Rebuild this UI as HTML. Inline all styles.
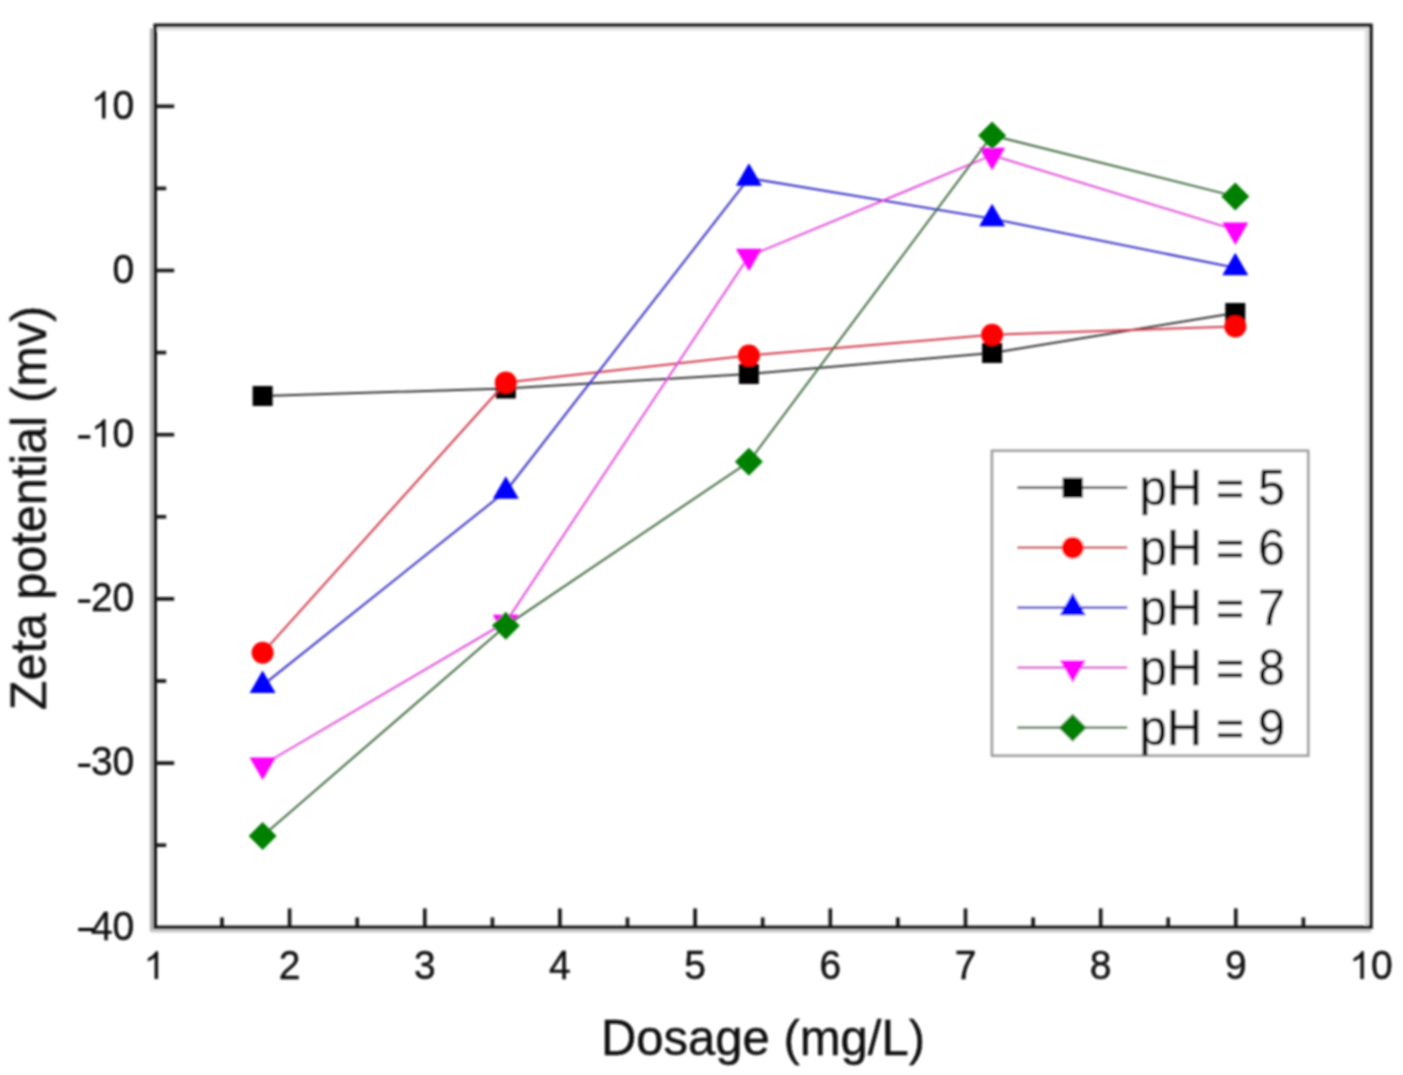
<!DOCTYPE html>
<html><head><meta charset="utf-8"><style>
html,body{margin:0;padding:0;background:#fff;}
svg{display:block;}
text{font-family:"Liberation Sans",sans-serif;}
svg text, svg path{fill:#0a0a0a;stroke:#0a0a0a;stroke-width:0.35px;}
</style></head><body>
<svg width="1403" height="1075" viewBox="0 0 1403 1075">
<defs><filter id="soft" x="0" y="0" width="1403" height="1075" filterUnits="userSpaceOnUse"><feGaussianBlur stdDeviation="1.0"/></filter></defs>
<rect width="1403" height="1075" fill="#fff"/>
<g filter="url(#soft)">
<line x1="151.6" y1="28.3" x2="151.6" y2="931.4" stroke="#b4b4b4" stroke-width="3.6"/>
<line x1="1366.7" y1="25.3" x2="1366.7" y2="927.4" stroke="#dcdcdc" stroke-width="3.4"/>
<line x1="155.2" y1="28.9" x2="1370.9" y2="28.9" stroke="#e2e2e2" stroke-width="3.4"/>
<line x1="151.6" y1="931.0" x2="1370.9" y2="931.0" stroke="#d0d0d0" stroke-width="3.4"/>
<rect x="155.2" y="25.3" width="1215.7" height="902.1" fill="none" stroke="#141414" stroke-width="3.6"/>
<line x1="222.0" y1="927.4" x2="222.0" y2="917.4" stroke="#141414" stroke-width="3.6"/>
<line x1="289.6" y1="927.4" x2="289.6" y2="908.4" stroke="#141414" stroke-width="3.6"/>
<line x1="357.2" y1="927.4" x2="357.2" y2="917.4" stroke="#141414" stroke-width="3.6"/>
<line x1="424.8" y1="927.4" x2="424.8" y2="908.4" stroke="#141414" stroke-width="3.6"/>
<line x1="492.4" y1="927.4" x2="492.4" y2="917.4" stroke="#141414" stroke-width="3.6"/>
<line x1="559.9" y1="927.4" x2="559.9" y2="908.4" stroke="#141414" stroke-width="3.6"/>
<line x1="627.5" y1="927.4" x2="627.5" y2="917.4" stroke="#141414" stroke-width="3.6"/>
<line x1="695.1" y1="927.4" x2="695.1" y2="908.4" stroke="#141414" stroke-width="3.6"/>
<line x1="762.7" y1="927.4" x2="762.7" y2="917.4" stroke="#141414" stroke-width="3.6"/>
<line x1="830.3" y1="927.4" x2="830.3" y2="908.4" stroke="#141414" stroke-width="3.6"/>
<line x1="897.9" y1="927.4" x2="897.9" y2="917.4" stroke="#141414" stroke-width="3.6"/>
<line x1="965.5" y1="927.4" x2="965.5" y2="908.4" stroke="#141414" stroke-width="3.6"/>
<line x1="1033.1" y1="927.4" x2="1033.1" y2="917.4" stroke="#141414" stroke-width="3.6"/>
<line x1="1100.7" y1="927.4" x2="1100.7" y2="908.4" stroke="#141414" stroke-width="3.6"/>
<line x1="1168.2" y1="927.4" x2="1168.2" y2="917.4" stroke="#141414" stroke-width="3.6"/>
<line x1="1235.8" y1="927.4" x2="1235.8" y2="908.4" stroke="#141414" stroke-width="3.6"/>
<line x1="1303.4" y1="927.4" x2="1303.4" y2="917.4" stroke="#141414" stroke-width="3.6"/>
<line x1="155.2" y1="845.2" x2="166.2" y2="845.2" stroke="#141414" stroke-width="3.6"/>
<line x1="155.2" y1="763.1" x2="174.2" y2="763.1" stroke="#141414" stroke-width="3.6"/>
<line x1="155.2" y1="681.0" x2="166.2" y2="681.0" stroke="#141414" stroke-width="3.6"/>
<line x1="155.2" y1="598.9" x2="174.2" y2="598.9" stroke="#141414" stroke-width="3.6"/>
<line x1="155.2" y1="516.8" x2="166.2" y2="516.8" stroke="#141414" stroke-width="3.6"/>
<line x1="155.2" y1="434.7" x2="174.2" y2="434.7" stroke="#141414" stroke-width="3.6"/>
<line x1="155.2" y1="352.6" x2="166.2" y2="352.6" stroke="#141414" stroke-width="3.6"/>
<line x1="155.2" y1="270.5" x2="174.2" y2="270.5" stroke="#141414" stroke-width="3.6"/>
<line x1="155.2" y1="188.4" x2="166.2" y2="188.4" stroke="#141414" stroke-width="3.6"/>
<line x1="155.2" y1="106.3" x2="174.2" y2="106.3" stroke="#141414" stroke-width="3.6"/>
<path d="M763,0L583,0L583,1147Q518,1085 415,1023Q307,961 223,930L223,1104Q374,1175 487,1276Q600,1377 647,1472L763,1472Z" transform="translate(143.56,979.00) scale(0.01904,-0.01877)"/>
<text transform="translate(278.74,979.00) scale(1,1.03)" font-size="39">2</text>
<text transform="translate(413.92,979.00) scale(1,1.03)" font-size="39">3</text>
<text transform="translate(549.10,979.00) scale(1,1.03)" font-size="39">4</text>
<text transform="translate(684.28,979.00) scale(1,1.03)" font-size="39">5</text>
<text transform="translate(819.46,979.00) scale(1,1.03)" font-size="39">6</text>
<text transform="translate(954.64,979.00) scale(1,1.03)" font-size="39">7</text>
<text transform="translate(1089.82,979.00) scale(1,1.03)" font-size="39">8</text>
<text transform="translate(1225.00,979.00) scale(1,1.03)" font-size="39">9</text>
<path d="M763,0L583,0L583,1147Q518,1085 415,1023Q307,961 223,930L223,1104Q374,1175 487,1276Q600,1377 647,1472L763,1472Z" transform="translate(1349.33,979.00) scale(0.01904,-0.01877)"/>
<text transform="translate(1371.02,979.00) scale(1,1.03)" font-size="39">0</text>
<text transform="translate(90.92,939.60) scale(1,1.03)" font-size="39">4</text>
<text transform="translate(112.61,939.60) scale(1,1.03)" font-size="39">0</text>
<rect x="78.2" y="927.9" width="14.8" height="3.2"/>
<text transform="translate(90.92,775.40) scale(1,1.03)" font-size="39">3</text>
<text transform="translate(112.61,775.40) scale(1,1.03)" font-size="39">0</text>
<rect x="78.2" y="763.7" width="12.1" height="3.2"/>
<text transform="translate(90.92,611.20) scale(1,1.03)" font-size="39">2</text>
<text transform="translate(112.61,611.20) scale(1,1.03)" font-size="39">0</text>
<rect x="78.2" y="599.5" width="12.1" height="3.2"/>
<path d="M763,0L583,0L583,1147Q518,1085 415,1023Q307,961 223,930L223,1104Q374,1175 487,1276Q600,1377 647,1472L763,1472Z" transform="translate(90.92,447.00) scale(0.01904,-0.01877)"/>
<text transform="translate(112.61,447.00) scale(1,1.03)" font-size="39">0</text>
<rect x="78.2" y="435.3" width="12.1" height="3.2"/>
<text transform="translate(112.61,282.80) scale(1,1.03)" font-size="39">0</text>
<path d="M763,0L583,0L583,1147Q518,1085 415,1023Q307,961 223,930L223,1104Q374,1175 487,1276Q600,1377 647,1472L763,1472Z" transform="translate(90.92,118.60) scale(0.01904,-0.01877)"/>
<text transform="translate(112.61,118.60) scale(1,1.03)" font-size="39">0</text>
<text transform="translate(763,1055) scale(1,1.035)" font-size="49" text-anchor="middle">Dosage (mg/L)</text>
<text transform="translate(45.4,508) rotate(-90) scale(0.99,1.035)" font-size="49" text-anchor="middle">Zeta potential (mv)</text>
<polyline points="262.6,396.0 505.8,388.5 748.9,374.0 992.1,353.0 1235.3,313.0" fill="none" stroke="#303030" stroke-width="2"/>
<rect x="252.6" y="386.0" width="20" height="20" fill="#000000"/>
<rect x="495.8" y="378.5" width="20" height="20" fill="#000000"/>
<rect x="738.9" y="364.0" width="20" height="20" fill="#000000"/>
<rect x="982.1" y="343.0" width="20" height="20" fill="#000000"/>
<rect x="1225.3" y="303.0" width="20" height="20" fill="#000000"/>
<polyline points="262.6,652.8 505.8,382.5 748.9,355.6 992.1,334.7 1235.3,326.5" fill="none" stroke="#d03848" stroke-width="2"/>
<circle cx="262.6" cy="652.8" r="11.0" fill="#ff0000"/>
<circle cx="505.8" cy="382.5" r="11.0" fill="#ff0000"/>
<circle cx="748.9" cy="355.6" r="11.0" fill="#ff0000"/>
<circle cx="992.1" cy="334.7" r="11.0" fill="#ff0000"/>
<circle cx="1235.3" cy="326.5" r="11.0" fill="#ff0000"/>
<polyline points="262.6,685.4 505.8,491.2 748.9,178.2 992.1,218.8 1235.3,267.8" fill="none" stroke="#3830c8" stroke-width="2"/>
<polygon points="262.6,670.4 275.6,692.9 249.6,692.9" fill="#0000ff"/>
<polygon points="505.8,476.2 518.8,498.8 492.8,498.8" fill="#0000ff"/>
<polygon points="748.9,163.2 761.9,185.7 735.9,185.7" fill="#0000ff"/>
<polygon points="992.1,203.8 1005.1,226.2 979.1,226.2" fill="#0000ff"/>
<polygon points="1235.3,252.8 1248.3,275.2 1222.3,275.2" fill="#0000ff"/>
<polyline points="262.6,765.0 505.8,622.2 748.9,256.2 992.1,155.2 1235.3,229.9" fill="none" stroke="#e048d8" stroke-width="2"/>
<polygon points="249.6,757.5 275.6,757.5 262.6,780.0" fill="#ff00ff"/>
<polygon points="492.8,614.8 518.8,614.8 505.8,637.2" fill="#ff00ff"/>
<polygon points="735.9,248.8 761.9,248.8 748.9,271.2" fill="#ff00ff"/>
<polygon points="979.1,147.8 1005.1,147.8 992.1,170.2" fill="#ff00ff"/>
<polygon points="1222.3,222.4 1248.3,222.4 1235.3,244.9" fill="#ff00ff"/>
<polyline points="262.6,836.0 505.8,625.8 748.9,461.8 992.1,135.5 1235.3,196.4" fill="none" stroke="#406a40" stroke-width="2"/>
<polygon points="262.6,822.0 276.6,836.0 262.6,850.0 248.6,836.0" fill="#008000"/>
<polygon points="505.8,611.8 519.8,625.8 505.8,639.8 491.8,625.8" fill="#008000"/>
<polygon points="748.9,447.8 762.9,461.8 748.9,475.8 734.9,461.8" fill="#008000"/>
<polygon points="992.1,121.5 1006.1,135.5 992.1,149.5 978.1,135.5" fill="#008000"/>
<polygon points="1235.3,182.4 1249.3,196.4 1235.3,210.4 1221.3,196.4" fill="#008000"/>
<rect x="992.0" y="450.8" width="316.2" height="304.8" fill="#fff" stroke="#9a9a9a" stroke-width="2.6"/>
<line x1="1017.4" y1="487.7" x2="1127.3" y2="487.7" stroke="#383838" stroke-width="2.2"/>
<rect x="1062.7" y="477.7" width="20" height="20" fill="#000000"/>
<text transform="translate(1139.5,504.9) scale(1,1.035)" font-size="49">pH = 5</text>
<line x1="1017.4" y1="547.7" x2="1127.3" y2="547.7" stroke="#c83848" stroke-width="2.2"/>
<circle cx="1072.7" cy="547.7" r="11.0" fill="#ff0000"/>
<text transform="translate(1139.5,564.9) scale(1,1.035)" font-size="49">pH = 6</text>
<line x1="1017.4" y1="607.7" x2="1127.3" y2="607.7" stroke="#3832c8" stroke-width="2.2"/>
<polygon points="1072.7,592.7 1085.7,615.2 1059.7,615.2" fill="#0000ff"/>
<text transform="translate(1139.5,624.9) scale(1,1.035)" font-size="49">pH = 7</text>
<line x1="1017.4" y1="667.7" x2="1127.3" y2="667.7" stroke="#d848d0" stroke-width="2.2"/>
<polygon points="1059.7,660.2 1085.7,660.2 1072.7,682.7" fill="#ff00ff"/>
<text transform="translate(1139.5,684.9) scale(1,1.035)" font-size="49">pH = 8</text>
<line x1="1017.4" y1="727.7" x2="1127.3" y2="727.7" stroke="#3e6a3e" stroke-width="2.2"/>
<polygon points="1072.7,713.7 1086.7,727.7 1072.7,741.7 1058.7,727.7" fill="#008000"/>
<text transform="translate(1139.5,744.9) scale(1,1.035)" font-size="49">pH = 9</text>
</g>
</svg>
</body></html>
